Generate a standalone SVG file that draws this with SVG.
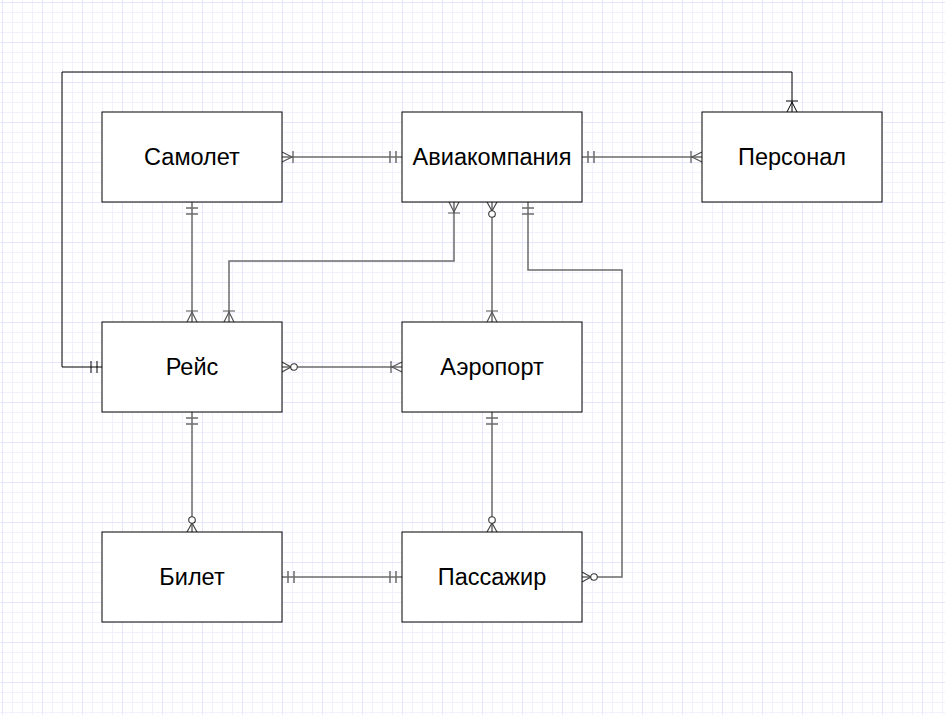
<svg xmlns="http://www.w3.org/2000/svg" width="945" height="715" viewBox="0 0 945 715">
<defs>
<pattern id="minor" x="2" y="2" width="10" height="10" patternUnits="userSpaceOnUse">
<path d="M0,0.5 H10 M0.5,0 V10" fill="none" stroke="#f1f1fd" stroke-width="1"/>
</pattern>
<pattern id="major" x="2" y="2" width="40" height="40" patternUnits="userSpaceOnUse">
<path d="M0,0.5 H40 M0.5,0 V40" fill="none" stroke="#e6e6fa" stroke-width="1"/>
</pattern>
<marker id="g-one" markerUnits="userSpaceOnUse" orient="auto-start-reverse" refX="0" refY="0" markerWidth="30" markerHeight="30" viewBox="-20 -10 30 20" overflow="visible">
<path d="M-6,-6 V6 M-12,-6 V6" fill="none" stroke="#6b6b6b" stroke-width="1.5"/>
</marker>
<marker id="g-many" markerUnits="userSpaceOnUse" orient="auto-start-reverse" refX="0" refY="0" markerWidth="30" markerHeight="30" viewBox="-20 -10 30 20" overflow="visible">
<path d="M0,-5 L-10,0 L0,5 M-11,-6 V6" fill="none" stroke="#555" stroke-width="1.2"/>
</marker>
<marker id="g-zmany" markerUnits="userSpaceOnUse" orient="auto-start-reverse" refX="0" refY="0" markerWidth="30" markerHeight="30" viewBox="-20 -10 30 20" overflow="visible">
<path d="M0,-5 L-9,0 L0,5" fill="none" stroke="#444" stroke-width="1.2"/>
<circle cx="-12" cy="0" r="3.3" fill="#fff" stroke="#333" stroke-width="1.1"/>
</marker>
<marker id="k-one" markerUnits="userSpaceOnUse" orient="auto-start-reverse" refX="0" refY="0" markerWidth="30" markerHeight="30" viewBox="-20 -10 30 20" overflow="visible">
<path d="M-5,-6 V6 M-11,-6 V6" fill="none" stroke="#000" stroke-width="1"/>
</marker>
<marker id="k-many" markerUnits="userSpaceOnUse" orient="auto-start-reverse" refX="0" refY="0" markerWidth="30" markerHeight="30" viewBox="-20 -10 30 20" overflow="visible">
<path d="M0,-5 L-10,0 L0,5 M-11,-6 V6" fill="none" stroke="#000" stroke-width="1"/>
</marker>
</defs>
<style>
.box{fill:#fff;stroke:#000;stroke-width:1}
.lbl{font-family:"Liberation Sans",Arial,sans-serif;font-size:23.5px;fill:#000;text-anchor:middle;dominant-baseline:central}
.c{fill:none;stroke:#6b6b6b;stroke-width:1.5}
.k{fill:none;stroke:#000;stroke-width:1}
</style>
<rect width="945" height="715" fill="#fff"/>
<rect width="945" height="715" fill="url(#minor)"/>
<rect width="945" height="715" fill="url(#major)"/>

<g id="connectors">
<path class="c" d="M282,157 H402" marker-start="url(#g-many)" marker-end="url(#g-one)"/>
<path class="c" d="M582,157 H702" marker-start="url(#g-one)" marker-end="url(#g-many)"/>
<path class="c" d="M192,202 V322" marker-start="url(#g-one)" marker-end="url(#g-many)"/>
<path class="c" d="M454,202 V261 H229 V322" marker-start="url(#g-many)" marker-end="url(#g-many)"/>
<path class="c" d="M492,202 V322" marker-start="url(#g-zmany)" marker-end="url(#g-many)"/>
<path class="c" d="M528,202 V270 H622 V577 H582" marker-start="url(#g-one)" marker-end="url(#g-zmany)"/>
<path class="c" d="M282,367 H402" marker-start="url(#g-zmany)" marker-end="url(#g-many)"/>
<path class="c" d="M192,412 V532" marker-start="url(#g-one)" marker-end="url(#g-zmany)"/>
<path class="c" d="M492,412 V532" marker-start="url(#g-one)" marker-end="url(#g-zmany)"/>
<path class="c" d="M282,577 H402" marker-start="url(#g-one)" marker-end="url(#g-one)"/>
<path class="k" d="M102,367 H62 V72 H792 V112" marker-start="url(#k-one)" marker-end="url(#k-many)"/>
</g>

<g id="samolet"><rect class="box" x="102" y="112" width="180" height="90"/><text class="lbl" x="192" y="157">Самолет</text></g>
<g id="aviakompaniya"><rect class="box" x="402" y="112" width="180" height="90"/><text class="lbl" x="492" y="157">Авиакомпания</text></g>
<g id="personal"><rect class="box" x="702" y="112" width="180" height="90"/><text class="lbl" x="792" y="157">Персонал</text></g>
<g id="reis"><rect class="box" x="102" y="322" width="180" height="90"/><text class="lbl" x="192" y="367">Рейс</text></g>
<g id="aeroport"><rect class="box" x="402" y="322" width="180" height="90"/><text class="lbl" x="492" y="367">Аэропорт</text></g>
<g id="bilet"><rect class="box" x="102" y="532" width="180" height="90"/><text class="lbl" x="192" y="577">Билет</text></g>
<g id="passazhir"><rect class="box" x="402" y="532" width="180" height="90"/><text class="lbl" x="492" y="577">Пассажир</text></g>
</svg>
